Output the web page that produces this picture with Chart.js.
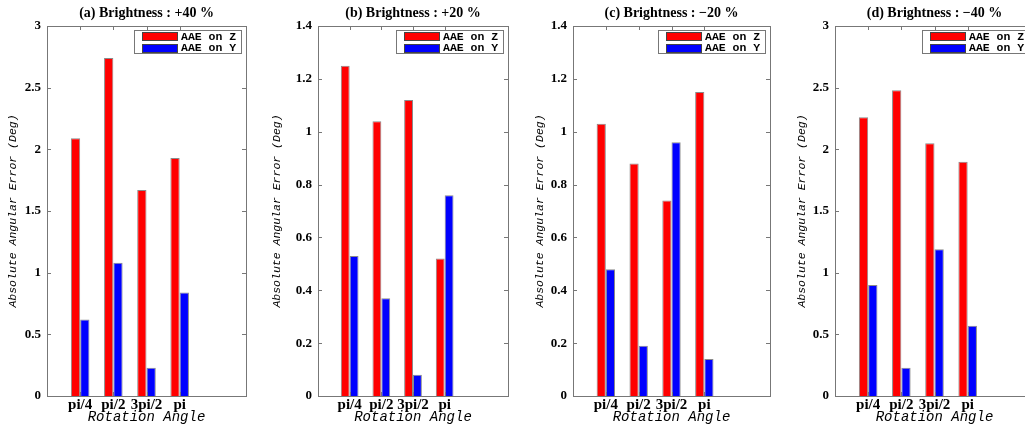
<!DOCTYPE html>
<html>
<head>
<meta charset="utf-8">
<script src="https://cdn.jsdelivr.net/npm/chart.js@4.4.1/dist/chart.umd.min.js"></script>
<style>
  html, body { margin: 0; padding: 0; background: #fff; overflow: hidden; }
  #wrap { position: relative; width: 1025px; height: 427px; overflow: hidden; }
  .panel { position: absolute; top: 0; }
</style>
</head>
<body>
<div id="wrap"></div>
<script>
// data
const angleLabels = ['pi/4', 'pi/2', '3pi/2', 'pi'];
const panelTitles = ['(a) Brightness : +40 %', '(b) Brightness : +20 %', '(c) Brightness : \u221220 %', '(d) Brightness : \u221240 %'];
const aaeZ_plus40 = [2.09, 2.74, 1.67, 1.93];
const aaeY_plus40 = [0.62, 1.08, 0.23, 0.84];
const aaeZ_plus20 = [1.25, 1.04, 1.12, 0.52];
const aaeY_plus20 = [0.53, 0.37, 0.08, 0.76];
const aaeZ_minus20 = [1.03, 0.88, 0.74, 1.15];
const aaeY_minus20 = [0.48, 0.19, 0.96, 0.14];
const aaeZ_minus40 = [2.26, 2.48, 2.05, 1.90];
const aaeY_minus40 = [0.90, 0.23, 1.19, 0.57];
const yMaxes = [3, 1.4, 1.4, 3];
const ySteps = [0.5, 0.2, 0.2, 0.5];

const serif = "'Liberation Serif', 'Times New Roman', serif";
const mono = "'Liberation Mono', 'Courier New', monospace";
const frameColor = '#777';

// where each plot box sits on the page
const layoutInfo = [
  { plotLeft: 47, plotWidth: 199, yWidth: 47 },
  { plotLeft: 318, plotWidth: 190, yWidth: 54 },
  { plotLeft: 573, plotWidth: 197, yWidth: 46 },
  { plotLeft: 835, plotWidth: 199, yWidth: 46 },
];

const panels = [
  [aaeZ_plus40, aaeY_plus40],
  [aaeZ_plus20, aaeY_plus20],
  [aaeZ_minus20, aaeY_minus20],
  [aaeZ_minus40, aaeY_minus40],
];

// frame box with inward ticks, like the matlab axes
const framePlugin = {
  id: 'frame',
  afterDatasetsDraw(chart) {
    const { ctx, chartArea: a, scales } = chart;
    ctx.save();
    ctx.strokeStyle = frameColor;
    ctx.lineWidth = 1;
    ctx.strokeRect(Math.round(a.left) + 0.5, Math.round(a.top) + 0.5, Math.round(a.width), Math.round(a.height));
    const tl = 4;
    ctx.beginPath();
    scales.y.ticks.forEach(t => {
      const y = Math.round(scales.y.getPixelForValue(t.value)) + 0.5;
      ctx.moveTo(a.left, y); ctx.lineTo(a.left + tl, y);
      ctx.moveTo(a.right, y); ctx.lineTo(a.right - tl, y);
    });
    for (let i = 1; i <= angleLabels.length; i++) {
      const x = Math.round(scales.x.getPixelForValue(i)) + 0.5;
      ctx.moveTo(x, a.top); ctx.lineTo(x, a.top + tl);
      ctx.moveTo(x, a.bottom); ctx.lineTo(x, a.bottom - tl);
    }
    ctx.stroke();
    ctx.restore();
  }
};

// legend box drawn inside the top-right of the plot
const boxLegend = {
  id: 'boxLegend',
  afterDraw(chart) {
    const { ctx, chartArea: a } = chart;
    const w = 107, h = 23;
    const left = Math.round(a.right - 5 - w), top = Math.round(a.top + 4);
    ctx.save();
    ctx.fillStyle = '#fff';
    ctx.fillRect(left, top, w, h);
    ctx.strokeStyle = frameColor;
    ctx.strokeRect(left + 0.5, top + 0.5, w, h);
    ctx.font = 'bold 11.5px ' + mono;
    ctx.textBaseline = 'middle';
    chart.data.datasets.forEach((ds, i) => {
      const cy = top + 6 + i * 11.5;
      ctx.fillStyle = ds.backgroundColor;
      ctx.fillRect(left + 8, Math.round(cy - 4), 35, 8);
      ctx.strokeStyle = '#444';
      ctx.strokeRect(left + 8.5, Math.round(cy - 4) + 0.5, 35, 8);
      ctx.fillStyle = '#000';
      ctx.fillText(ds.label, left + 47, cy + 1);
    });
    ctx.restore();
  }
};

const wrap = document.getElementById('wrap');

panels.forEach((series, p) => {
  const info = layoutInfo[p];
  // an empty right axis as wide as the left one, so the title centres on the plot
  const cw = info.yWidth + info.plotWidth + info.yWidth;
  const div = document.createElement('div');
  div.className = 'panel';
  div.style.left = (info.plotLeft - info.yWidth) + 'px';
  div.style.width = cw + 'px';
  div.style.height = '427px';
  const canvas = document.createElement('canvas');
  canvas.width = cw;
  canvas.height = 427;
  div.appendChild(canvas);
  wrap.appendChild(div);

  new Chart(canvas, {
    type: 'bar',
    data: {
      datasets: [
        {
          label: 'AAE on Z',
          data: series[0].map((v, i) => ({ x: i + 1, y: v })),
          backgroundColor: '#ff0000',
          borderColor: '#8a8a8a',
          borderWidth: 1,
        },
        {
          label: 'AAE on Y',
          data: series[1].map((v, i) => ({ x: i + 1, y: v })),
          backgroundColor: '#0000ff',
          borderColor: '#8a8a8a',
          borderWidth: 1,
        },
      ],
    },
    options: {
      responsive: false,
      animation: false,
      devicePixelRatio: 1,
      categoryPercentage: 0.56,
      barPercentage: 1.0,
      layout: { padding: 0 },
      plugins: {
        legend: { display: false },
        tooltip: { enabled: false },
        title: {
          display: true,
          text: panelTitles[p],
          color: '#000',
          font: { family: serif, size: 14, weight: 'bold', lineHeight: 1.2 },
          padding: { top: 5, bottom: 4.2 },
        },
      },
      scales: {
        x: {
          type: 'linear',
          min: 0,
          max: 6,
          offset: false,
          grid: { display: false, drawTicks: false },
          border: { display: false },
          ticks: {
            stepSize: 1,
            autoSkip: false,
            maxRotation: 0,
            padding: 0,
            color: '#000',
            font: { family: serif, size: 15, weight: 'bold' },
            callback: (v) => angleLabels[v - 1] || '',
          },
          title: {
            display: true,
            text: 'Rotation Angle',
            color: '#000',
            font: { family: mono, size: 14, style: 'italic' },
            padding: { top: 0, bottom: 1 },
          },
          afterFit: (scale) => { scale.height = 31; },
        },
        y: {
          min: 0,
          max: yMaxes[p],
          grid: { display: false, drawTicks: false },
          border: { display: false },
          ticks: {
            stepSize: ySteps[p],
            padding: 6,
            color: '#000',
            font: { family: serif, size: 13, weight: 'bold' },
            callback: (v) => String(Math.round(v * 10) / 10),
          },
          title: {
            display: true,
            text: 'Absolute Angular Error (Deg)',
            color: '#000',
            font: { family: mono, size: 11.5, style: 'italic' },
            padding: { top: 6, bottom: 0 },
          },
          afterFit: (scale) => { scale.width = info.yWidth; },
        },
        yRight: {
          position: 'right',
          min: 0,
          max: yMaxes[p],
          grid: { display: false, drawTicks: false },
          border: { display: false },
          ticks: { display: false },
          afterFit: (scale) => { scale.width = info.yWidth; },
        },
      },
    },
    plugins: [framePlugin, boxLegend],
  });
});
</script>
</body>
</html>
